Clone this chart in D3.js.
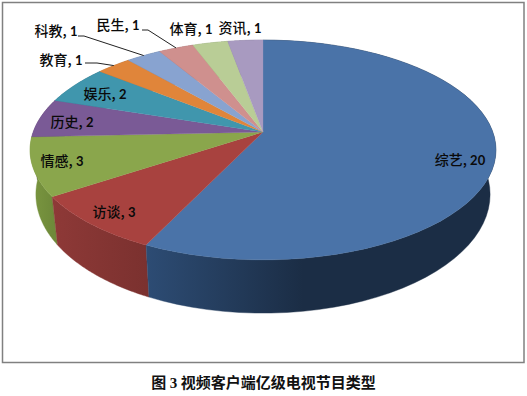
<!DOCTYPE html>
<html><head><meta charset="utf-8">
<script src="https://cdn.jsdelivr.net/npm/d3@7"></script>
<style>html,body{margin:0;padding:0;background:#fff}svg{display:block}</style></head>
<body><svg id="c" width="527" height="396"></svg>
<script>
const categories=["综艺","访谈","情感","历史","娱乐","教育","科教","民生","体育","资讯"];
const values=[20,3,3,2,2,1,1,1,1,1];
const topColors=["#4a73a8","#a8423f","#8aa64c","#7a5a96","#4096ad","#e0853a","#88a3d0","#cf908e","#b9cd96","#a89ac0"];
const sideLight=["#2d4c74","#8e3937","#7a9640","#5f4676","#31788a","#b56a2c","#6a83a8","#a87270","#94a878","#877b9c"];
const sideDark=["#1b2d45","#7b312f","#6f8a3a","#544068","#2a6878","#9c5a24","#5a7090","#906260","#7e9066","#746a88"];
const titleParts=["图 ","3"," 视频客户端亿级电视节目类型"];

const svg=d3.select("#c");
const cx=263,apexY=132,k=0.1636;
const sx=d3.scaleLinear().domain([-1,1]).range([cx-229.8,cx+229.8]);
const sy=d3.scaleLinear().domain([-1,1]).range([apexY-107,apexY+107]);
const baseScaleX=0.975,baseScaleY=1.08,baseY=175;
function proj(a,r=1,base=false){
  const u=r*Math.sin(a),v=-r*Math.cos(a),w=1-k*v;
  let x=sx(u/w),y=sy(v/w);
  if(base){x=cx+(x-cx)*baseScaleX;y=baseY+(y-apexY)*baseScaleY;}
  return [x,y];
}
const arcs=d3.pie().sort(null).startAngle(0).endAngle(2*Math.PI)(values);
const line=d3.line();
const sampled=(a0,a1)=>d3.range(0,61).map(i=>a0+(a1-a0)*i/60);

svg.append("rect").attr("x",2.5).attr("y",2.5).attr("width",521.5).attr("height",360)
  .attr("fill","#fff").attr("stroke","#808080").attr("stroke-width",1.5);

const defs=svg.append("defs");
arcs.forEach((d,i)=>{
  const p0=proj(d.startAngle),p1=proj(d.endAngle);
  const g=defs.append("linearGradient").attr("id","s"+i).attr("gradientUnits","userSpaceOnUse")
    .attr("x1",i===0?p1[0]:Math.min(p0[0],p1[0])).attr("x2",i===0?cx+40:Math.max(p0[0],p1[0])).attr("y1",0).attr("y2",0);
  g.append("stop").attr("offset",0).attr("stop-color",sideLight[i]);
  g.append("stop").attr("offset",1).attr("stop-color",sideDark[i]);
});
// side walls, back slices first
arcs.slice().reverse().forEach(d=>{
  const i=d.index;
  const as=sampled(d.startAngle,d.endAngle);
  const pts=as.map(a=>proj(a)).concat(as.slice().reverse().map(a=>proj(a,1,true)));
  svg.append("path").attr("d",line(pts)+"Z").attr("fill",`url(#s${i})`).attr("stroke",`url(#s${i})`).attr("stroke-width",0.4);
});
// top faces
arcs.forEach((d,i)=>{
  const pts=[proj(0,0)].concat(sampled(d.startAngle,d.endAngle).map(a=>proj(a)));
  svg.append("path").attr("d",line(pts)+"Z").attr("fill",topColors[i]).attr("stroke",topColors[i]).attr("stroke-width",0.3);
});
// leader lines
const leaders=[{i:5,from:[85,63],elbow:[97,63]},{i:6,from:[78,36],elbow:[84,36]},{i:7,from:[142,30],elbow:[148,30]}];
leaders.forEach(l=>{
  const d=arcs[l.i];const end=proj((d.startAngle+d.endAngle)/2);
  svg.append("path").attr("d",line([l.from,l.elbow,end])).attr("fill","none").attr("stroke","#222").attr("stroke-width",1);
});
// labels
const labelPos=[[460,160],[114,212],[62,161],[72,122],[105,94],[61,60],[56,31],[118,25],[191,29],[240,28]];
categories.forEach((c,i)=>{
  const t=svg.append("text").attr("x",labelPos[i][0]).attr("y",labelPos[i][1]+5).attr("text-anchor","middle").attr("fill","#0a0a0a");
  t.append("tspan").attr("font-family","'Noto Sans CJK SC'").attr("font-weight",500).attr("font-size",14).text(c+",");
  t.append("tspan").attr("font-family","Lato,'Open Sans'").attr("font-size",13).attr("font-weight",700).text(" "+values[i]);
});
const tt=svg.append("text").attr("x",263.5).attr("y",388).attr("text-anchor","middle")
  .attr("font-family","'Noto Sans CJK SC'").attr("font-weight",700).attr("font-size",15).attr("fill","#111");
titleParts.forEach((s,i)=>tt.append("tspan").attr("font-family",i===1?"'Liberation Serif'":null).text(s));
</script></body></html>
